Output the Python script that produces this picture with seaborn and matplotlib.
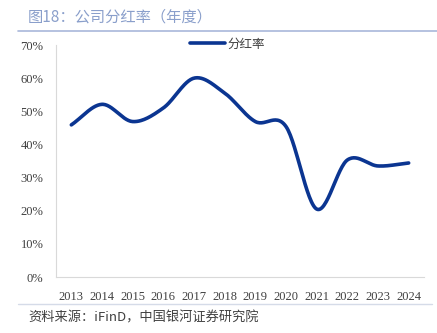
import numpy as np
import pandas as pd
import matplotlib
matplotlib.use("Agg")
import matplotlib.pyplot as plt
import seaborn as sns
from matplotlib.lines import Line2D

years = ["2013", "2014", "2015", "2016", "2017", "2018", "2019", "2020", "2021", "2022", "2023", "2024"]
payout = [45.9, 52.1, 46.9, 51.0, 60.0, 55.5, 46.9, 45.4, 20.5, 35.3, 33.5, 34.4]
yticks = [0, 10, 20, 30, 40, 50, 60, 70]

sns.set_theme(style="white")
plt.rcParams['font.family'] = ['Liberation Serif', 'Noto Sans CJK SC', 'DejaVu Sans']

W, H = 437, 333
fig = plt.figure(figsize=(W / 100, H / 100), dpi=100)
ax = fig.add_axes([56 / W, 1 - 277 / H, (424 - 56) / W, (277 - 45) / H])

# Catmull-Rom smoothing (Excel-style smoothed line) for rendering
x = np.arange(len(payout), dtype=float)
y = np.array(payout, dtype=float)
px = np.concatenate([[2 * x[0] - x[1]], x, [2 * x[-1] - x[-2]]])
py = np.concatenate([[2 * y[0] - y[1]], y, [2 * y[-1] - y[-2]]])
sx, sy = [], []
t = np.linspace(0, 1, 30)
for i in range(1, len(px) - 2):
    p0, p1, p2, p3 = (px[i-1], py[i-1]), (px[i], py[i]), (px[i+1], py[i+1]), (px[i+2], py[i+2])
    for k in range(2):
        a0, a1, a2, a3 = p0[k], p1[k], p2[k], p3[k]
        v = 0.5 * ((2 * a1) + (-a0 + a2) * t + (2 * a0 - 5 * a1 + 4 * a2 - a3) * t**2 + (-a0 + 3 * a1 - 3 * a2 + a3) * t**3)
        (sx if k == 0 else sy).append(v if i == len(px) - 3 else v[:-1])
sx = np.concatenate(sx)
sy = np.concatenate(sy)
df = pd.DataFrame({"x": sx, "y": sy})
line_color = "#0b3591"
sns.lineplot(data=df, x="x", y="y", ax=ax, color=line_color, linewidth=2.6, sort=False, estimator=None)

ax.set_xlim(-0.5, len(years) - 0.5)
ax.set_ylim(0, 70)
ax.set_xticks(range(len(years)))
ax.set_xticklabels(years)
ax.set_yticks(yticks)
ax.set_yticklabels([f"{v}%" for v in yticks])
ax.set_xlabel("")
ax.set_ylabel("")
ax.tick_params(axis="both", length=0, labelsize=9, colors="#404040")
ax.tick_params(axis="y", pad=9)
ax.tick_params(axis="x", pad=10)
for s in ["top", "right"]:
    ax.spines[s].set_visible(False)
for s in ["left", "bottom"]:
    ax.spines[s].set_color("#d9d9d9")
    ax.spines[s].set_linewidth(0.8)

handle = Line2D([0], [0], color=line_color, linewidth=2.6)
leg = ax.legend([handle], ["分红率"], loc="upper center", bbox_to_anchor=(0.465, 1.08),
                frameon=False, handlelength=2.8, handletextpad=0.2,
                prop={'family': ['Noto Sans CJK SC'], 'size': 9})
for txt in leg.get_texts():
    txt.set_color("#404040")

fig.text(28 / W, 1 - 17 / H, "图18：公司分红率（年度）", fontsize=11, color="#8a9fcb",
         family=['Noto Sans CJK SC'], va="center", ha="left")
fig.add_artist(Line2D([18 / W, 1.0], [1 - 31 / H, 1 - 31 / H], color="#a9b8da", linewidth=1.2))
fig.add_artist(Line2D([18 / W, 432 / W], [1 - 304 / H, 1 - 304 / H], color="#d5dbe8", linewidth=1.0))
fig.text(28 / W, 1 - 318 / H, "资料来源：iFinD，中国银河证券研究院", fontsize=9.5, color="#404040",
         family=['Noto Sans CJK SC'], style="italic", va="center", ha="left")

fig.savefig("out.png", dpi=100)
